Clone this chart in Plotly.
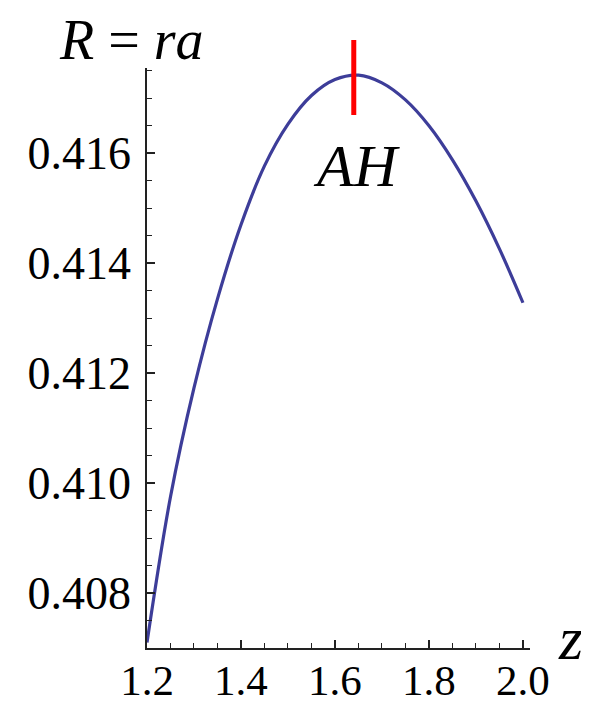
import plotly.graph_objects as go

z_vals = [1.20, 1.25, 1.30, 1.35, 1.40, 1.45, 1.50, 1.55, 1.60, 1.65,
          1.70, 1.75, 1.80, 1.85, 1.90, 1.95, 2.00]
r_vals = [0.40710, 0.40975, 0.41173, 0.41335, 0.41470, 0.41577, 0.41653,
          0.41705, 0.41734, 0.41742, 0.41728, 0.41697, 0.41650, 0.41588,
          0.41513, 0.41426, 0.41328]
x_ticks = [1.2, 1.4, 1.6, 1.8, 2.0]
y_ticks = [0.408, 0.410, 0.412, 0.414, 0.416]
ah_z = 1.64

OFF = 8  # page body margin
W, H = 589 - OFF, 707 - OFF
ML, MT = 147 - OFF, 68 - OFF
MR, MB = 59, 59
PW, PH = W - ML - MR, H - MT - MB

def px(x):
    return (x - OFF - ML) / PW

def py(y):
    return (H - MB - (y - OFF)) / PH

serif = "Liberation Serif, Times New Roman, serif"

fig = go.Figure()
fig.add_trace(go.Scatter(
    x=z_vals, y=r_vals, mode="lines",
    line=dict(color="rgb(61,61,153)", width=3.2, shape="spline", smoothing=1),
    showlegend=False, hoverinfo="skip",
))

fig.add_shape(type="line", xref="x", yref="paper",
              x0=ah_z, x1=ah_z, y0=py(40), y1=py(115),
              line=dict(color="rgb(255,0,0)", width=5), layer="above")

fig.add_annotation(xref="paper", yref="paper", x=px(131), y=py(8),
                   text="<i>R</i> = <i>ra</i>", showarrow=False,
                   font=dict(family=serif, size=56, color="black"),
                   xanchor="center", yanchor="top", borderpad=0)
fig.add_annotation(xref="x", yref="paper", x=1.646, y=py(166),
                   text="<i>AH</i>", showarrow=False,
                   font=dict(family=serif, size=60, color="black"),
                   xanchor="center", yanchor="middle")
fig.add_annotation(xref="paper", yref="paper", x=px(570), y=py(638),
                   text="<i>z</i>", showarrow=False,
                   font=dict(family=serif, size=62, color="black"),
                   xanchor="center", yanchor="middle")

fig.update_layout(
    width=W, height=H,
    margin=dict(l=ML, r=MR, t=MT, b=MB, pad=0),
    paper_bgcolor="white", plot_bgcolor="white",
    showlegend=False,
    font=dict(family=serif, color="black"),
)
fig.update_xaxes(
    range=[1.2, 2.015], showgrid=False, zeroline=False,
    showline=True, linecolor="#222", linewidth=1.5,
    tickvals=x_ticks, ticktext=[f"{v:.1f}" for v in x_ticks],
    ticks="inside", ticklen=8, tickwidth=1.5, tickcolor="#222",
    minor=dict(dtick=0.05, tick0=1.2, ticks="inside", ticklen=5, tickwidth=1.2, tickcolor="#222", showgrid=False),
    tickfont=dict(family=serif, size=43, color="black"),
    ticklabelstandoff=-6,
    automargin=False,
)
fig.update_yaxes(
    range=[0.407, 0.41755], showgrid=False, zeroline=False,
    showline=True, linecolor="#222", linewidth=1.5,
    tickvals=y_ticks, ticktext=[f"{v:.3f}" for v in y_ticks],
    ticks="inside", ticklen=8, tickwidth=1.5, tickcolor="#222",
    minor=dict(dtick=0.0005, tick0=0.407, ticks="inside", ticklen=5, tickwidth=1.2, tickcolor="#222", showgrid=False),
    tickfont=dict(family=serif, size=46, color="black"),
    ticklabelstandoff=5,
    automargin=False,
)

fig.write_html("out.html")
